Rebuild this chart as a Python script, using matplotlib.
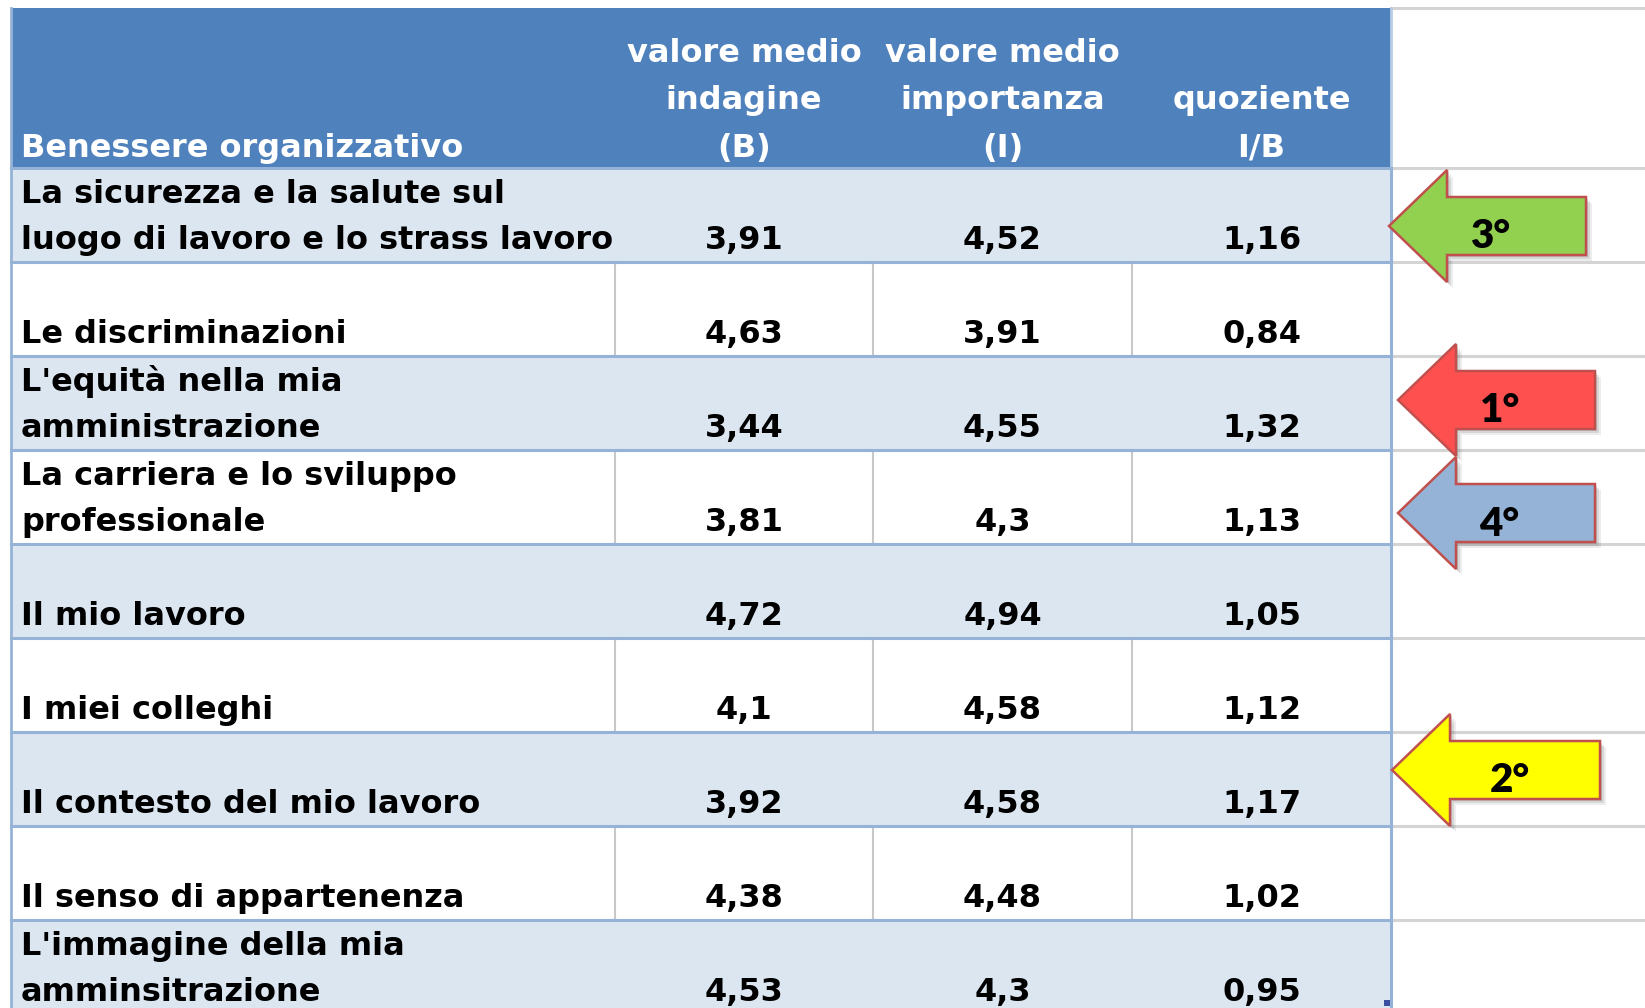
import matplotlib
matplotlib.use("Agg")
import matplotlib.pyplot as plt
from matplotlib.patches import Rectangle, Polygon

# table content
header_first = "Benessere organizzativo"
col_headers = [["valore medio", "indagine", "(B)"],
               ["valore medio", "importanza", "(I)"],
               ["quoziente", "I/B"]]
categories = [
    ["La sicurezza e la salute sul", "luogo di lavoro e lo strass lavoro"],
    ["Le discriminazioni"],
    ["L'equità nella mia", "amministrazione"],
    ["La carriera e lo sviluppo", "professionale"],
    ["Il mio lavoro"],
    ["I miei colleghi"],
    ["Il contesto del mio lavoro"],
    ["Il senso di appartenenza"],
    ["L'immagine della mia", "amminsitrazione"],
]
val_b = [3.91, 4.63, 3.44, 3.81, 4.72, 4.1, 3.92, 4.38, 4.53]
val_i = [4.52, 3.91, 4.55, 4.3, 4.94, 4.58, 4.58, 4.48, 4.3]
val_q = [1.16, 0.84, 1.32, 1.13, 1.05, 1.12, 1.17, 1.02, 0.95]

# ranking arrows: label, row index, colour
rank_labels = ["1°", "2°", "3°", "4°"]
rank_rows = [2, 6, 0, 3]
rank_colors = ["#FF5050", "#FFFF00", "#92D050", "#95B3D7"]

# layout (pixels)
W, H = 1645, 1008
x_left, x_right = 11, 1391
col_edges = [x_left, 615, 873, 1132, 1391]
head_top, head_bot = 8, 168
row_h = 94
# arrow geometry per rank: tip x, centre offset from row top, tail x, label offset
arrow_tip = [1398, 1392, 1389, 1398]
arrow_dy = [44, 38, 58, 63]
arrow_tail = [1595, 1600, 1586, 1595]
label_dx = [102, 118, 101, 101]

header_blue = "#4F81BD"
shade = "#DCE6F1"
line_blue = "#95B3D7"
grid_gray = "#D4D4D4"
FONT = "DejaVu Sans"
FS = 23


def fmt(v):
    return f"{v:g}".replace(".", ",")


fig = plt.figure(figsize=(W / 100, H / 100), dpi=100)
ax = fig.add_axes([0, 0, 1, 1])
ax.set_xlim(0, W)
ax.set_ylim(H, 0)
ax.axis("off")

n = len(categories)
row_tops = [head_bot + i * row_h for i in range(n)]

# excel gridlines right of the table
for y in [head_top, head_bot] + [t + row_h for t in row_tops]:
    ax.plot([x_right, W], [y, y], color=grid_gray, lw=2.2, zorder=1)

# header
ax.add_patch(Rectangle((x_left, head_top), x_right - x_left, head_bot - head_top,
                       facecolor=header_blue, edgecolor="none", zorder=2))
ax.text(21, 157, header_first, color="white", fontsize=FS, fontweight="bold",
        family=FONT, va="baseline", ha="left", zorder=5)
for c, lines in enumerate(col_headers):
    xc = (col_edges[c + 1] + col_edges[c + 2]) / 2
    for k, line in enumerate(reversed(lines)):
        ax.text(xc, 157 - k * 47.5, line, color="white", fontsize=FS,
                fontweight="bold", family=FONT, va="baseline", ha="center", zorder=5)

# body rows
for i, top in enumerate(row_tops):
    bot = top + row_h
    if i % 2 == 0:
        ax.add_patch(Rectangle((x_left, top), x_right - x_left, row_h,
                               facecolor=shade, edgecolor="none", zorder=2))
    else:
        for xe in col_edges[1:4]:
            ax.plot([xe, xe], [top, bot], color="#C8C8C8", lw=1.5, zorder=3)
    base = bot - 13
    for k, line in enumerate(reversed(categories[i])):
        ax.text(21, base - k * 46, line, color="black", fontsize=FS,
                fontweight="bold", family=FONT, va="baseline", ha="left", zorder=5)
    for c, vals in enumerate([val_b, val_i, val_q]):
        xc = (col_edges[c + 1] + col_edges[c + 2]) / 2
        ax.text(xc, base, fmt(vals[i]), color="black", fontsize=FS,
                fontweight="bold", family=FONT, va="baseline", ha="center", zorder=5)

# row separators and borders
for y in [head_bot] + [t + row_h for t in row_tops]:
    ax.plot([x_left, x_right], [y, y], color=line_blue, lw=2.2, zorder=4)
ax.plot([x_left, x_left], [head_top, H], color=line_blue, lw=2, zorder=4)
ax.plot([x_right, x_right], [head_top, head_bot], color="#B8CCE4", lw=2, zorder=4)
ax.plot([x_right, x_right], [head_bot, H], color=line_blue, lw=2.2, zorder=4)
ax.add_patch(Rectangle((x_right - 7, H - 8), 6, 6, facecolor="#3A4FA0",
                       edgecolor="none", zorder=6))

# ranking arrows
head_len, head_half, shaft_half = 58, 56, 29
for lab, r, col, tip, dy, tail, ldx in zip(rank_labels, rank_rows, rank_colors,
                                            arrow_tip, arrow_dy, arrow_tail, label_dx):
    yc = row_tops[r] + dy
    pts = [(tip, yc), (tip + head_len, yc - head_half), (tip + head_len, yc - shaft_half),
           (tail, yc - shaft_half), (tail, yc + shaft_half), (tip + head_len, yc + shaft_half),
           (tip + head_len, yc + head_half)]
    for off, a in [(6, 0.12), (4, 0.18), (2, 0.25)]:
        ax.add_patch(Polygon([(x + off, y + off) for x, y in pts], closed=True,
                             facecolor="#707070", alpha=a, edgecolor="none", zorder=7))
    ax.add_patch(Polygon(pts, closed=True, facecolor=col, edgecolor="#C0504D",
                         lw=1.8, zorder=8))
    ax.text(tip + ldx, yc + 11, lab, fontsize=29, fontweight="heavy",
            family="Lato", color="black", ha="center", va="center", zorder=9)

fig.savefig("out.png", dpi=100)
